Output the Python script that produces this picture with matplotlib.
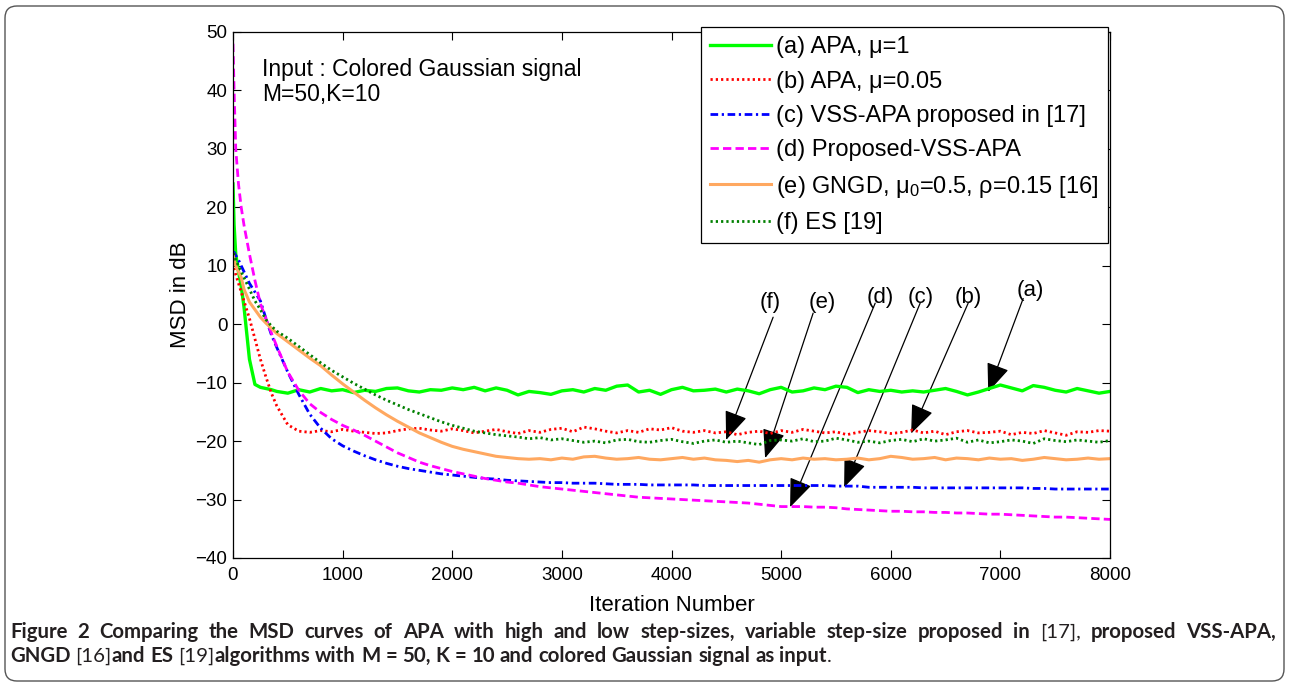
import matplotlib
matplotlib.use("Agg")
import matplotlib.pyplot as plt
from matplotlib.patches import FancyBboxPatch, FancyArrowPatch
from matplotlib.transforms import IdentityTransform

plt.rcParams['font.family'] = ['Liberation Sans', 'DejaVu Sans']
plt.rcParams['mathtext.default'] = 'regular'
plt.rcParams['lines.scale_dashes'] = False

# ---------------- data ----------------
ITER = [0, 10, 25, 50, 75, 100, 150, 200, 250, 300, 350,
        400, 500, 600, 700, 800, 900,
        1000, 1100, 1200, 1300, 1400, 1500, 1600, 1700, 1800, 1900,
        2000, 2100, 2200, 2300, 2400, 2500, 2600, 2700, 2800, 2900,
        3000, 3100, 3200, 3300, 3400, 3500, 3600, 3700, 3800, 3900,
        4000, 4100, 4200, 4300, 4400, 4500, 4600, 4700, 4800, 4900,
        5000, 5100, 5200, 5300, 5400, 5500, 5600, 5700, 5800, 5900,
        6000, 6100, 6200, 6300, 6400, 6500, 6600, 6700, 6800, 6900,
        7000, 7100, 7200, 7300, 7400, 7500, 7600, 7700, 7800, 7900,
        8000]

msd_a = [24, 17, 12, 9, 6.5, 3, -6, -10.3, -10.8, -11, -11.2,
         -11.5, -11.8, -11.2, -11.6, -11.0, -11.4,
         -11.2, -11.7, -11.3, -11.5, -11.0, -10.9, -11.4, -11.6, -11.2, -11.3,
         -10.9, -11.2, -10.8, -11.4, -10.9, -11.3, -12.1, -11.5, -11.7, -12.0,
         -11.4, -11.2, -11.6, -11.0, -11.3, -10.6, -10.4, -11.6, -11.3, -12.0,
         -11.2, -10.8, -11.4, -11.3, -11.1, -11.6, -11.1, -11.4, -11.9, -11.2,
         -10.8, -11.6, -11.4, -10.9, -11.2, -10.6, -10.8, -11.7, -11.2, -11.5,
         -11.3, -11.6, -11.4, -11.6, -11.3, -11.0, -11.5, -12.1, -11.6, -11.0,
         -10.4, -10.9, -11.4, -10.5, -10.8, -11.3, -11.6, -11.0, -11.4, -11.8,
         -11.5]

msd_b = [10.5, 9.5, 8.5, 7, 5.5, 4, 1, -2.5, -6, -9, -11.8,
         -14, -17.2, -18.3, -18.5, -18.2, -18.4,
         -18.0, -18.3, -18.5, -18.7, -18.6, -18.2, -17.9, -17.8, -18.1, -18.3,
         -17.9, -18.2, -18.6, -18.3, -18.0, -18.4, -18.7, -18.2, -18.5, -18.0,
         -17.8, -18.4, -17.6, -17.9, -18.3, -18.6, -18.2, -18.5, -17.9, -18.1,
         -17.7, -18.3, -18.5, -18.2, -18.6, -18.4, -18.9, -18.5, -18.3, -18.7,
         -18.2, -18.5, -18.0, -18.3, -18.6, -18.4, -18.9, -18.5, -18.2, -18.4,
         -18.7, -18.5, -18.1, -18.6, -18.3, -18.9, -18.4, -18.2, -18.6, -18.5,
         -18.3, -18.9, -18.5, -18.7, -18.2, -18.6, -19.0, -18.4, -18.5, -18.2,
         -18.3]

msd_c = [12, 12.3, 11.8, 11, 10, 9, 7, 5.5, 4, 1, -1.8,
         -4, -8.2, -12, -15.4, -17.8, -19.6,
         -20.8, -21.7, -22.5, -23.2, -23.8, -24.3, -24.7, -25.0, -25.3, -25.6,
         -25.8, -26.0, -26.2, -26.4, -26.5, -26.7, -26.8, -26.9, -27.0, -27.1,
         -27.1, -27.2, -27.2, -27.2, -27.3, -27.4, -27.4, -27.4, -27.5, -27.5,
         -27.5, -27.5, -27.5, -27.6, -27.6, -27.6, -27.6, -27.6, -27.6, -27.6,
         -27.6, -27.6, -27.6, -27.6, -27.6, -27.7, -27.7, -27.7, -27.9, -27.9,
         -27.9, -27.9, -27.9, -28.0, -28.0, -28.0, -28.0, -28.0, -28.0, -28.0,
         -28.0, -28.0, -28.0, -28.1, -28.1, -28.2, -28.2, -28.2, -28.2, -28.2,
         -28.2]

msd_d = [48, 40, 30, 24, 20, 17, 12, 7.5, 3.5, 1, -1.5,
         -3.8, -8.2, -11.3, -13.6, -15.1, -16.3,
         -17.3, -18.1, -19.0, -20.0, -21.0, -22.0, -22.8, -23.6, -24.2, -24.7,
         -25.2, -25.6, -26.0, -26.4, -26.7, -27.0, -27.2, -27.5, -27.8, -28.0,
         -28.2, -28.4, -28.6, -28.8, -29.0, -29.2, -29.4, -29.6, -29.7, -29.8,
         -29.9, -30.0, -30.1, -30.2, -30.3, -30.4, -30.5, -30.6, -30.8, -31.0,
         -31.2, -31.2, -31.2, -31.3, -31.3, -31.4, -31.6, -31.7, -31.8, -31.9,
         -32.0, -32.0, -32.1, -32.1, -32.2, -32.2, -32.3, -32.3, -32.4, -32.5,
         -32.5, -32.6, -32.7, -32.8, -32.9, -33.0, -33.0, -33.1, -33.2, -33.3,
         -33.4]

msd_e = [12, 11, 10, 9, 8, 6, 3.8, 2.5, 1.2, 0.2, -0.7,
         -1.6, -3, -4.4, -5.8, -7.1, -8.7,
         -10.2, -11.6, -13.0, -14.3, -15.5, -16.6, -17.6, -18.6, -19.4, -20.2,
         -20.9, -21.4, -21.8, -22.2, -22.6, -22.8, -23.0, -23.1, -23.0, -23.2,
         -22.9, -23.1, -22.7, -22.6, -22.9, -23.1, -23.0, -22.8, -23.1, -23.2,
         -23.0, -22.8, -23.1, -22.9, -23.2, -23.3, -23.5, -23.3, -23.6, -23.2,
         -23.0, -23.2, -22.9, -23.1, -23.0, -23.2, -23.1, -22.9, -23.2, -23.0,
         -22.6, -22.8, -23.1, -23.0, -22.8, -23.2, -22.9, -23.0, -23.2, -22.9,
         -23.1, -23.0, -23.3, -23.1, -22.8, -23.0, -23.2, -23.1, -22.9, -23.1,
         -23.0]

msd_f = [12, 12, 11, 10, 9, 8, 6, 4, 2.5, 0.8, -0.3,
         -1.2, -2.4, -3.8, -5.2, -6.6, -7.9,
         -9.0, -10.1, -11.1, -12.1, -13.0, -13.8, -14.6, -15.3, -16.0, -16.7,
         -17.3, -17.8, -18.3, -18.6, -18.9, -19.1, -19.3, -19.6, -19.4, -19.8,
         -19.6, -19.9, -20.2, -20.0, -20.3, -19.8, -19.7, -20.1, -20.2, -19.9,
         -19.7, -20.1, -20.4, -20.0, -19.8, -20.2, -20.0, -20.3, -20.6, -19.9,
         -19.8, -20.0, -19.6, -20.1, -20.0, -19.5, -19.8, -20.2, -20.0, -20.3,
         -19.9, -19.7, -20.1, -19.6, -20.0, -19.8, -19.5, -20.2, -19.8, -20.3,
         -20.1, -19.8, -20.0, -20.4, -19.6, -19.9, -20.1, -19.8, -20.0, -20.2,
         -19.9]

labels = ["(a) APA, μ=1",
          "(b) APA, μ=0.05",
          "(c) VSS-APA proposed in [17]",
          "(d) Proposed-VSS-APA",
          r"(e) GNGD, $\mu_0$=0.5, ρ=0.15 [16]",
          "(f) ES [19]"]

xticks = [0, 1000, 2000, 3000, 4000, 5000, 6000, 7000, 8000]
yticks = [-40, -30, -20, -10, 0, 10, 20, 30, 40, 50]

# annotation labels: (text, label position, arrow start, arrow tip)
annots = [("(a)", (7272, 5.8), (7208, 4.4), (6889, -11.6)),
          ("(b)", (6706, 4.6), (6706, 3.6), (6186, -18.7)),
          ("(c)", (6277, 4.6), (6268, 3.6), (5575, -27.9)),
          ("(d)", (5903, 4.6), (5858, 3.6), (5082, -31.3)),
          ("(e)", (5374, 3.8), (5292, 1.9), (4854, -22.9)),
          ("(f)", (4900, 3.8), (4927, 1.2), (4498, -19.8))]

# ---------------- figure ----------------
W, H = 1289, 683
fig = plt.figure(figsize=(W / 100, H / 100), dpi=100)
ax = fig.add_axes([233 / W, 1 - 558 / H, (1110 - 233) / W, (558 - 32) / H])

styles = [dict(color='#00ff00', lw=2.4, ls='-'),
          dict(color='#ff0000', lw=2.0, ls=(0, (1.6, 2.2))),
          dict(color='#0000ff', lw=2.0, ls=(0, (5.5, 2.6, 1.6, 2.6))),
          dict(color='#ff00ff', lw=2.0, ls=(0, (6, 3))),
          dict(color='#ffa860', lw=2.2, ls='-'),
          dict(color='#008000', lw=2.0, ls=(0, (1.6, 2.2)))]
series = [msd_a, msd_b, msd_c, msd_d, msd_e, msd_f]
handles = []
for ys, st, lab in zip(series, styles, labels):
    h, = ax.plot(ITER, ys, label=lab, **st)
    handles.append(h)

ax.set_xlim(0, 8000)
ax.set_ylim(-40, 50)
ax.set_xticks(xticks)
ax.set_yticks(yticks)
ax.tick_params(direction='in', top=True, right=True, length=6, width=0.8,
               labelsize=13.5)
ax.tick_params(axis='x', pad=6.5)
ax.tick_params(axis='y', pad=4)
for sp in ax.spines.values():
    sp.set_linewidth(0.9)
ax.set_xlabel("Iteration Number", fontsize=16, labelpad=8)
ax.set_ylabel("MSD in dB", fontsize=16, labelpad=3)

ax.text(265, 42.5, "Input : Colored Gaussian signal", fontsize=16.5,
        va='baseline', ha='left')
ax.text(265, 38.2, "M=50,K=10", fontsize=16.5, va='baseline', ha='left')

leg = ax.legend(handles=handles, loc='upper right',
                bbox_to_anchor=(0.998, 1.0 + 5 / 526), fontsize=17,
                handlelength=2.55, handletextpad=0.25, labelspacing=0.52,
                borderpad=0.4, borderaxespad=0, fancybox=False,
                edgecolor='black', framealpha=1)
leg.get_frame().set_linewidth(0.9)

for txt, lpos, start, tip in annots:
    ax.text(lpos[0], lpos[1], txt, fontsize=16, ha='center', va='center')
    arr = FancyArrowPatch(start, tip, arrowstyle='-|>,head_length=1.5,head_width=0.6',
                          mutation_scale=12, color='black', lw=0.9,
                          shrinkA=0, shrinkB=0)
    ax.add_patch(arr)

# outer rounded border
border = FancyBboxPatch((5, 2), W - 10, H - 8,
                        boxstyle="round,pad=0,rounding_size=12",
                        transform=IdentityTransform(), fc='none',
                        ec='#555555', lw=1.0, clip_on=False)
fig.patches.append(border)

# ---------------- caption ----------------
cap_font = ['Lato', 'DejaVu Sans']
line1 = [[("Figure", True)], [("2", True)], [("Comparing", True)], [("the", True)],
         [("MSD", True)], [("curves", True)], [("of", True)], [("APA", True)],
         [("with", True)], [("high", True)], [("and", True)], [("low", True)],
         [("step-sizes,", True)], [("variable", True)], [("step-size", True)],
         [("proposed", True)], [("in", True)], [("[17],", False)],
         [("proposed", True)], [("VSS-APA,", True)]]
line2 = [[("GNGD", True)], [("[16]", False), ("and", True)], [("ES", True)],
         [("[19]", False), ("algorithms", True)], [("with", True)], [("M", True)],
         [("=", True)], [("50,", True)], [("K", True)], [("=", True)], [("10", True)],
         [("and", True)], [("colored", True)], [("Gaussian", True)], [("signal", True)],
         [("as", True)], [("input", True), (".", False)]]

renderer = fig.canvas.get_renderer()
cap_fs = [12.0]


def measure(s, bold):
    t = fig.text(0, 0, s, fontsize=cap_fs[0], family=cap_font,
                 fontweight='bold' if bold else 'normal')
    w = t.get_window_extent(renderer).width
    t.remove()
    return w


def natural_width(words):
    sp = measure("x x", True) - measure("xx", True)
    tot = sum(measure(s, b) for word in words for s, b in word)
    return tot + sp * (len(words) - 1)


# fit the font so that the (unjustified) last line ends where it does in the reference
cap_fs[0] = 12.0 * (826 - 10) / natural_width(line2)
space_w = measure("x x", True) - measure("xx", True)


def place_line(words, y_px, x0, x1, justify):
    widths = [[measure(s, b) for s, b in word] for word in words]
    tot = sum(sum(w) for w in widths)
    gap = (x1 - x0 - tot) / (len(words) - 1) if justify else space_w
    x = x0
    for word, ws in zip(words, widths):
        for (s, b), w in zip(word, ws):
            fig.text(x / W, 1 - y_px / H, s, fontsize=cap_fs[0], family=cap_font,
                     fontweight='bold' if b else 'normal', color='#231f20',
                     va='center', ha='left')
            x += w
        x += gap


place_line(line1, 632, 10, 1276, True)
place_line(line2, 656, 10, 1276, False)

fig.savefig("out.png", dpi=100)
